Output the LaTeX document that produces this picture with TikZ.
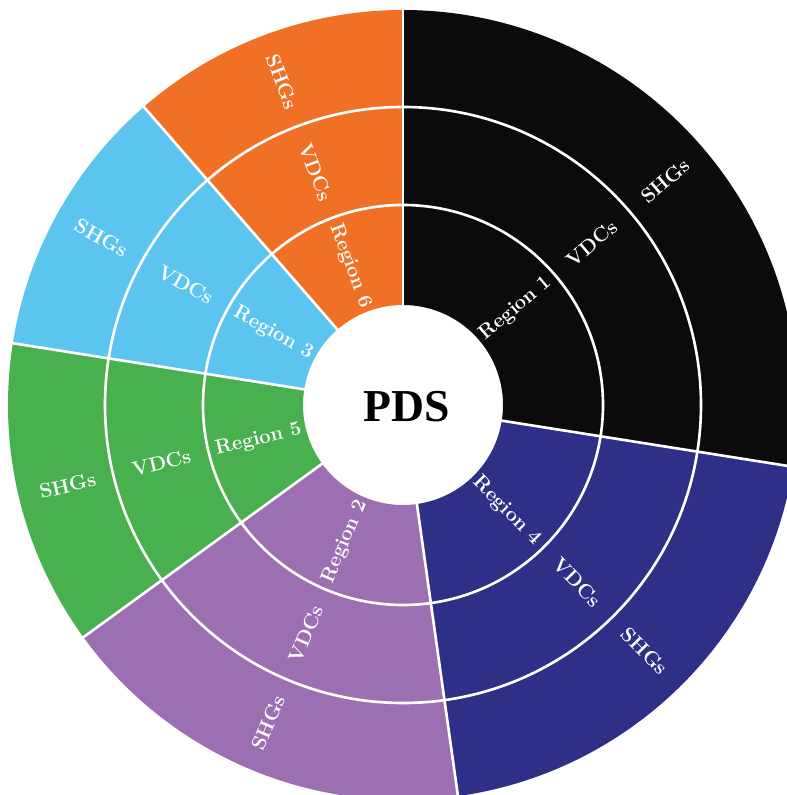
\documentclass[tikz,border=0pt]{standalone}
\usepackage{fontspec}
\newfontfamily\hubfont{Liberation Serif}
\definecolor{regblack}{HTML}{0C0A0C}
\definecolor{regnavy}{HTML}{2E3088}
\definecolor{regpurple}{HTML}{9C6FB3}
\definecolor{reggreen}{HTML}{48B04F}
\definecolor{regblue}{HTML}{5BC5EF}
\definecolor{regorange}{HTML}{F07125}
\tikzset{
  ringline/.style={draw=white,line width=1.5pt},
  seglbl/.style={text=white,inner sep=0pt,font=\fontsize{11.5}{12}\selectfont\bfseries},
  hublbl/.style={inner sep=0pt,font=\hubfont\fontsize{26}{28}\selectfont\bfseries}
}

\begin{document}
\begin{tikzpicture}
  \clip (-8.06,-7.8) rectangle (7.68,8.1);
  \fill[white] (-8.06,-7.8) rectangle (7.68,8.1);

  % sectors: start/end angle, colour, region number
  \foreach \a/\b/\col/\num in {-9/90/regblack/1,-82/-9/regnavy/4,-144/-82/regpurple/2,
                               171/216/reggreen/5,131/171/regblue/3,90/131/regorange/6}{
    \fill[\col] (\a:2) arc[start angle=\a,end angle=\b,radius=2]
      -- (\b:7.9) arc[start angle=\b,end angle=\a,radius=7.9] -- cycle;
  }

  % white ring and spoke lines
  \draw[ringline] (0,0) circle[radius=4];
  \draw[ringline] (0,0) circle[radius=5.96];
  \foreach \a in {-9,-82,-144,171,131,90}
    \draw[ringline] (\a:1.9) -- (\a:8);

  % labels along the radius
  \foreach \a/\b/\num in {-9/90/1,-82/-9/4,-144/-82/2,171/216/5,131/171/3,90/131/6}{
    \pgfmathsetmacro\mid{(\a+\b)/2}
    \pgfmathsetmacro\rot{cos(\mid)<0 ? \mid+180 : \mid}
    \node[seglbl,rotate=\rot] (reg\num) at (\mid:2.97) {Region \oldstylenums{\num}};
    \node[seglbl,rotate=\rot] (vdc\num) at (\mid:4.97) {VDCs};
    \node[seglbl,rotate=\rot] (shg\num) at (\mid:6.9) {SHGs};
  }

  \node[hublbl] (pds) at (0.08,-0.04) {PDS};
\end{tikzpicture}
\end{document}
